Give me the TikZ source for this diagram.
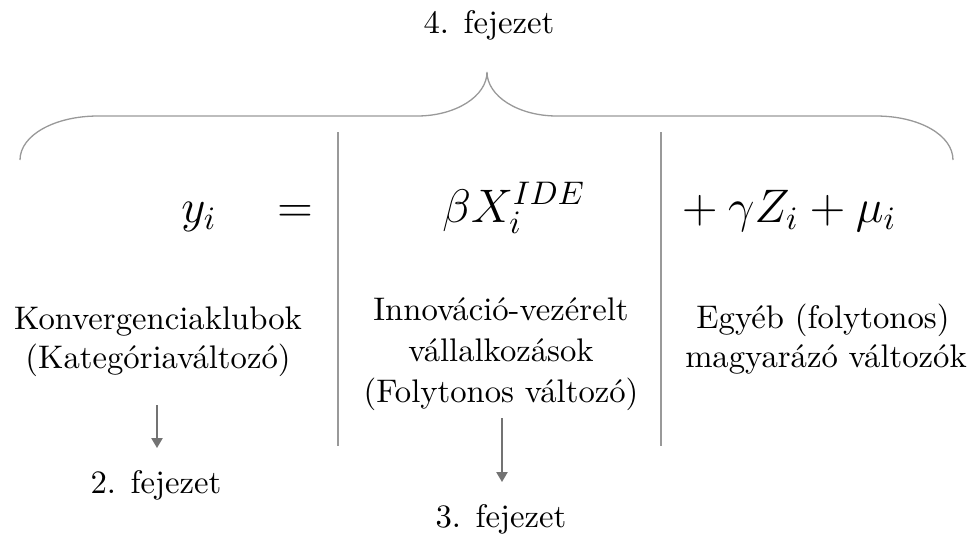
\documentclass[tikz,border=0pt]{standalone}
\usetikzlibrary{arrows.meta}
\DeclareMathSizes{14}{14}{10}{8}
\begin{document}
\begin{tikzpicture}[x=0.306pt,y=-0.306pt,
  mth/.style={font=\fontsize{14}{17}\selectfont, inner sep=0pt, anchor=base},
  lbl/.style={font=\normalsize, inner sep=0pt, anchor=base},
  divider/.style={draw=black!40, line width=0.35pt},
  bracestyle/.style={draw=black!40, line width=0.4pt},
  pointer/.style={draw=black!55, line width=0.45pt, -{Triangle[length=3pt,width=3.4pt]}}]
\useasboundingbox (0,0) rectangle (971,535);
% top label
\node[lbl] (ch4) at (489,33) {4. fejezet};
% brace
\coordinate (bl) at (20,160);
\coordinate (br) at (953,160);
\coordinate (tip) at (487,72);
\draw[bracestyle] (bl) .. controls (20,135) and (55,116) .. (98,116) -- (417,116)
  .. controls (456,116) and (487,96) .. (tip)
  .. controls (487,96) and (518,116) .. (557,116) -- (876,116)
  .. controls (919,116) and (953,135) .. (br);
% dividers
\coordinate (d1t) at (338,132); \coordinate (d1b) at (338,446);
\coordinate (d2t) at (661,132); \coordinate (d2b) at (661,446);
\draw[divider] (d1t) -- (d1b);
\draw[divider] (d2t) -- (d2b);
% equation
\node[mth] (y) at (199,222) {$y_i$};
\node[mth] (eq) at (295,222) {$=$};
\node[mth] (bx) at (514,222) {$\beta X_i^{IDE}$};
\node[mth] (rest) at (784,222) {${}+\gamma Z_i+\mu_i$};
% descriptions
\node[lbl] (l1) at (158,329) {Konvergenciaklubok};
\node[lbl] (l2) at (158,368) {(Kategóriaváltozó)};
\node[lbl] (m1) at (501,320) {Innováció-vezérelt};
\node[lbl] (m2) at (501,361) {vállalkozások};
\node[lbl] (m3) at (501,402) {(Folytonos változó)};
\node[lbl] (r1) at (823,328) {Egyéb (folytonos)};
\node[lbl] (r2) at (826,367) {magyarázó változók};
% chapter labels
\node[lbl] (ch2) at (156,493) {2. fejezet};
\node[lbl] (ch3) at (501,527) {3. fejezet};
% arrows
\coordinate (a1s) at (157,405); \coordinate (a1e) at (157,448);
\coordinate (a2s) at (502,418); \coordinate (a2e) at (502,482);
\draw[pointer] (a1s) -- (a1e);
\draw[pointer] (a2s) -- (a2e);
\end{tikzpicture}
\end{document}
